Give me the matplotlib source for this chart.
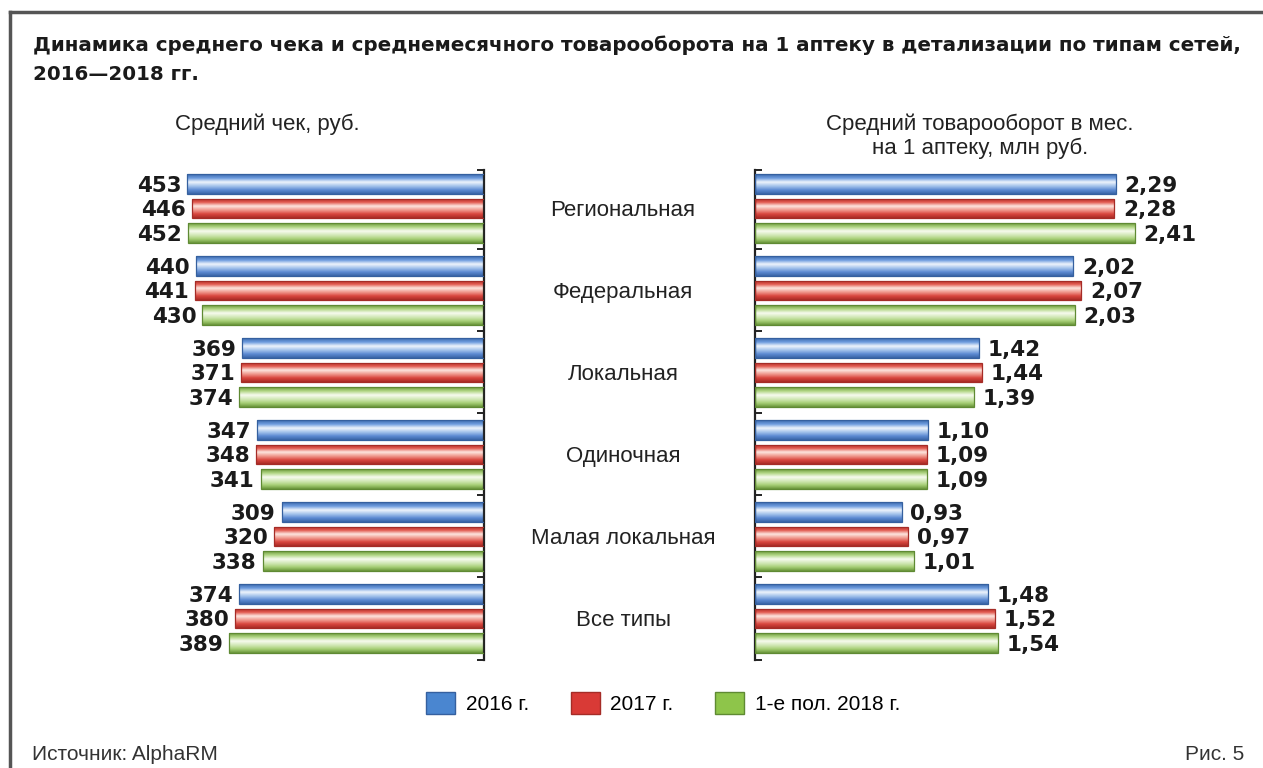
import numpy as np
import matplotlib
matplotlib.use("Agg")
import matplotlib.pyplot as plt
from matplotlib.colors import LinearSegmentedColormap
from matplotlib.patches import Patch
from matplotlib.lines import Line2D
from matplotlib.transforms import blended_transform_factory

categories = ["Региональная", "Федеральная", "Локальная", "Одиночная",
              "Малая локальная", "Все типы"]
series = ["2016 г.", "2017 г.", "1-е пол. 2018 г."]
avg_check = [[453, 446, 452],
             [440, 441, 430],
             [369, 371, 374],
             [347, 348, 341],
             [309, 320, 338],
             [374, 380, 389]]
turnover = [[2.29, 2.28, 2.41],
            [2.02, 2.07, 2.03],
            [1.42, 1.44, 1.39],
            [1.10, 1.09, 1.09],
            [0.93, 0.97, 1.01],
            [1.48, 1.52, 1.54]]

# gradient stops per series (dark edge -> light stripe -> dark edge)
grads = [
    ["#3c6aae", "#6f9ddf", "#eef4fc", "#a6c4ec", "#5d8bd3", "#3a65a6"],
    ["#b0302a", "#e2594f", "#fde6df", "#f09a8f", "#d9473f", "#a92c26"],
    ["#6e9b3c", "#b3d787", "#f7fbef", "#d3e9b8", "#a8d078", "#6a963a"],
]
edges = ["#35609f", "#a52c27", "#5f8a33"]
legend_face = ["#4a86d0", "#d93a36", "#8ec54a"]

W, H = 1263, 768
fig = plt.figure(figsize=(W / 100, H / 100), dpi=100)
fig.patch.set_facecolor("white")

def fx(px):
    return px / W

def fy(py):
    return 1 - py / H

group_gap = 3.347
bar_h = 0.78
ypos = [[i * group_gap + j for j in range(3)] for i in range(len(categories))]
ylim = (19.43, -0.57)
bounds = [-0.57] + [i * group_gap + 2.67 for i in range(len(categories) - 1)] + [19.43]

ax_top, ax_bot = 170, 660
ax_l = fig.add_axes([fx(120), fy(ax_bot), fx(484 - 120), (ax_bot - ax_top) / H])
ax_r = fig.add_axes([fx(755), fy(ax_bot), fx(1240 - 755), (ax_bot - ax_top) / H])


def draw(ax, data):
    for j in range(3):
        ys = [ypos[i][j] for i in range(len(categories))]
        vals = [data[i][j] for i in range(len(categories))]
        bars = ax.barh(ys, vals, height=bar_h, facecolor="none",
                       edgecolor=edges[j], linewidth=0.9, zorder=3)
        cmap = LinearSegmentedColormap.from_list("g%d" % j, grads[j])
        grad = np.linspace(0, 1, 64).reshape(-1, 1)
        for b, y, v in zip(bars, ys, vals):
            im = ax.imshow(grad, cmap=cmap, aspect="auto", origin="upper",
                           extent=(0, v, y + bar_h / 2, y - bar_h / 2),
                           zorder=2, interpolation="bilinear")
            im.set_clip_path(b)


draw(ax_l, avg_check)
draw(ax_r, turnover)

ax_l.set_xlim((484 - 120) / 0.655, 0)
ax_r.set_xlim(0, (1240 - 755) / 157.6)
for ax in (ax_l, ax_r):
    ax.set_ylim(*ylim)
    ax.set_facecolor("none")
    for s in ax.spines.values():
        s.set_visible(False)
    ax.set_xticks([])
    ax.set_yticks(bounds)
    ax.set_yticklabels([])

ax_l.spines["right"].set_visible(True)
ax_l.spines["right"].set_linewidth(1.6)
ax_l.spines["right"].set_color("#222222")
ax_l.yaxis.tick_right()
ax_l.tick_params(axis="y", direction="in", length=5, width=1.4, color="#222222",
                 left=False, right=True)
ax_r.spines["left"].set_visible(True)
ax_r.spines["left"].set_linewidth(1.6)
ax_r.spines["left"].set_color("#222222")
ax_r.tick_params(axis="y", direction="in", length=5, width=1.4, color="#222222")

valfont = dict(family="DejaVu Sans", weight="bold", size=15.5, color="#1a1a1a")
for i in range(len(categories)):
    for j in range(3):
        v = avg_check[i][j]
        ax_l.text(v + 9, ypos[i][j], str(v), ha="right", va="center_baseline",
                  **valfont)
        t = turnover[i][j]
        ax_r.text(t + 0.055, ypos[i][j], ("%.2f" % t).replace(".", ","),
                  ha="left", va="center_baseline", **valfont)

tr = blended_transform_factory(fig.transFigure, ax_l.transData)
for i, c in enumerate(categories):
    ax_l.text(fx(623), ypos[i][1], c, transform=tr, ha="center",
              va="center_baseline", family="Liberation Sans", size=16,
              color="#222222")

# headings
fig.text(fx(267), fy(124), "Средний чек, руб.", ha="center", va="center",
         family="Liberation Sans", size=16, color="#222222")
fig.text(fx(980), fy(136), "Средний товарооборот в мес.\nна 1 аптеку, млн руб.",
         ha="center", va="center", family="Liberation Sans", size=16,
         color="#222222", linespacing=1.15)

# title
fig.text(fx(33), fy(45), "Динамика среднего чека и среднемесячного товарооборота "
         "на 1 аптеку в детализации по типам сетей,", ha="left", va="center",
         family="DejaVu Sans", weight="bold", size=14.3, color="#1a1a1a")
fig.text(fx(33), fy(74), "2016—2018 гг.", ha="left", va="center",
         family="DejaVu Sans", weight="bold", size=14.3, color="#1a1a1a")

# legend
handles = [Patch(facecolor=legend_face[j], edgecolor=edges[j], linewidth=1.0)
           for j in range(3)]
fig.legend(handles, series, loc="center", bbox_to_anchor=(fx(663), fy(703)),
           ncol=3, frameon=False, handlelength=1.4, handleheight=1.25,
           handletextpad=0.5, columnspacing=2.0,
           prop=dict(family="Liberation Sans", size=15))

# footer
fig.text(fx(32), fy(755), "Источник: AlphaRM", ha="left", va="center",
         family="Liberation Sans", size=15, color="#333333")
fig.text(fx(1244), fy(755), "Рис. 5", ha="right", va="center",
         family="Liberation Sans", size=15, color="#333333")

# frame (top and left edges)
fig.add_artist(Line2D([fx(10), 1], [fy(12), fy(12)], transform=fig.transFigure,
                      color="#555555", linewidth=2.5))
fig.add_artist(Line2D([fx(10), fx(10)], [fy(12), 0], transform=fig.transFigure,
                      color="#555555", linewidth=2.5))

fig.savefig("out.png", dpi=100)
